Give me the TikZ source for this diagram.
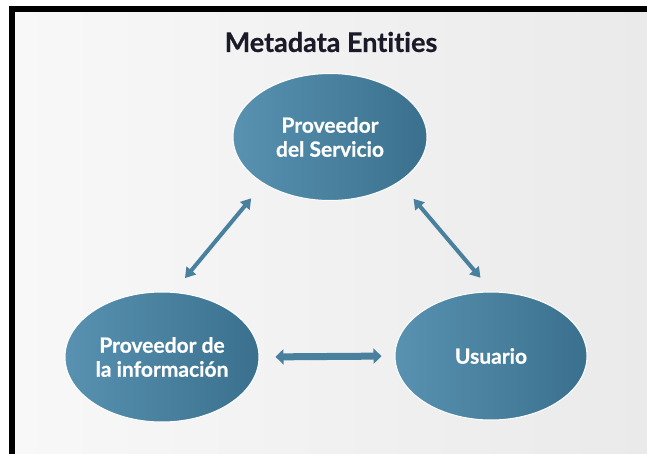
\documentclass[tikz,border=0pt]{standalone}
\usepackage{fontspec}
\setmainfont{Lato}[Ligatures=NoCommon, BoldFeatures={FakeBold=0.6}]
\usetikzlibrary{arrows.meta,shapes.geometric}
\definecolor{entlight}{RGB}{88,146,176}
\definecolor{entdark}{RGB}{58,112,142}
\definecolor{linkblue}{RGB}{72,128,158}
\definecolor{bgleft}{RGB}{248,248,248}
\definecolor{bgright}{RGB}{234,234,234}
\definecolor{titlecol}{RGB}{26,26,40}
\begin{document}
\begin{tikzpicture}[x=1pt, y=-1pt, font=\bfseries,
		entity/.style={ellipse, minimum width=194pt, minimum height=127pt, inner sep=0pt,
			left color=entlight, right color=entdark, draw=white, line width=1pt,
			text=white, align=center, font=\fontsize{21}{24}\selectfont\bfseries},
		link/.style={draw=linkblue, line width=4pt, {Triangle[length=10pt,width=12pt]}-{Triangle[length=10pt,width=12pt]}},
		thicklink/.style={draw=linkblue, line width=7pt, {Triangle[length=8pt,width=15pt]}-{Triangle[length=8pt,width=15pt]}}]
			\useasboundingbox (0,0) rectangle (647,454);
			% background and frame
			\fill[white] (0,0) rectangle (647,454);
			\shade[left color=bgleft, right color=bgright] (15,12) rectangle (647,454);
			\fill[black] (9,6) rectangle (647,12);
			\fill[black] (9,6) rectangle (15,454);
			
			\node[text=titlecol, font=\fontsize{27}{30}\selectfont\bfseries] (title) at (331,42) {Metadata Entities};
			
			% entities
			\node[entity] (serv) at (330,137) {Proveedor\\del Servicio};
			\node[entity, minimum height=130pt] (info) at (162,357) {Proveedor de\\la información};
			\node[entity, minimum width=192pt, minimum height=128pt] (user) at (491,356) {Usuario};
			
			% links
			\draw[link, shorten <=18pt, shorten >=19pt] (info.80) -- (serv.215);
			\draw[link, shorten <=22pt, shorten >=18pt] (serv.-33) -- (user.89);
			\draw[thicklink, shorten <=16pt, shorten >=13pt] (info.east) -- (user.west);
		\end{tikzpicture}
\end{document}
